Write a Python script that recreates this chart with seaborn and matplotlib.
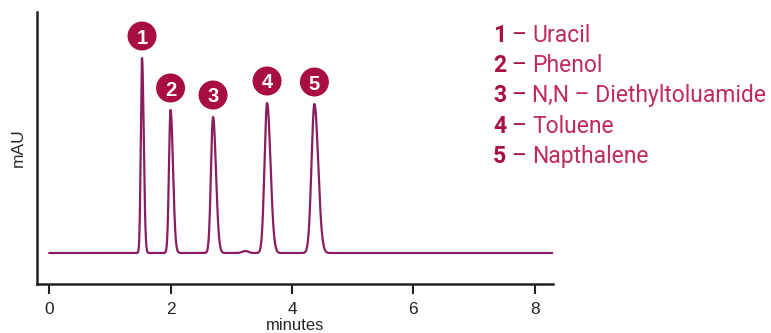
import numpy as np
import pandas as pd
import matplotlib
matplotlib.use("Agg")
import matplotlib.pyplot as plt
import matplotlib.transforms as mtransforms
import seaborn as sns

# ---- data ----
peak_labels = ["1", "2", "3", "4", "5"]
compounds = ["Uracil", "Phenol", "N,N – Diethyltoluamide", "Toluene", "Napthalene"]
retention_min = [1.53, 2.00, 2.70, 3.59, 4.37]
peak_height = [195, 143, 136, 150, 149]
sigma_left = [0.020, 0.026, 0.034, 0.042, 0.048]
sigma_right = [0.028, 0.040, 0.048, 0.056, 0.062]
minor_rt = [3.23]
minor_height = [2]
minor_sigma = [0.05]
run_start, run_end = 0.0, 8.3
x_ticks = [0, 2, 4, 6, 8]

# ---- build chromatogram trace from the peak table ----
t = np.linspace(run_start, run_end, 4000)
signal = np.zeros_like(t)
for rt, h, sl, sr in zip(retention_min, peak_height, sigma_left, sigma_right):
    s = np.where(t < rt, sl, sr)
    signal += h * np.exp(-0.5 * ((t - rt) / s) ** 2)
for rt, h, s in zip(minor_rt, minor_height, minor_sigma):
    signal += h * np.exp(-0.5 * ((t - rt) / s) ** 2)
trace = pd.DataFrame({"minutes": t, "mAU": signal})
peaks = pd.DataFrame({"minutes": retention_min, "mAU": peak_height, "label": peak_labels})

sns.set_style("white")
plt.rcParams["font.family"] = ["Liberation Sans", "DejaVu Sans"]

line_color = "#8a1d5e"
badge_color = "#a80d43"
text_color = "#c02a5c"

fig = plt.figure(figsize=(7.71, 3.33), dpi=100)
ax = fig.add_axes([37 / 771, 1 - 284 / 333, (553 - 37) / 771, (284 - 12) / 333])

sns.lineplot(data=trace, x="minutes", y="mAU", ax=ax, color=line_color, linewidth=1.6)

# numbered badges above each peak
offset = mtransforms.offset_copy(ax.transData, fig=fig, x=0, y=22, units="dots")
sns.scatterplot(data=peaks, x="minutes", y="mAU", ax=ax, s=(29 * 0.72) ** 2,
                color=badge_color, edgecolor="none", transform=offset, clip_on=False, zorder=5)
for rt, h, lab in zip(retention_min, peak_height, peak_labels):
    ax.text(rt, h, lab, transform=offset, ha="center", va="center_baseline",
            color="white", fontsize=14.5, fontweight="bold", zorder=6)

ax.set_xlim(-0.2, run_end)
ax.set_ylim(-31, 241)
ax.set_xticks(x_ticks)
ax.set_yticks([])
ax.set_xlabel("minutes", fontsize=12)
ax.xaxis.set_label_coords(0.5, (284 - 330) / 272)
ax.xaxis.label.set_va("baseline")
ax.set_ylabel("mAU", fontsize=12.5, labelpad=8)
ax.tick_params(axis="x", direction="out", length=7, width=1.5, pad=6,
               labelsize=12.5, color="#222222", bottom=True)
for side in ["top", "right"]:
    ax.spines[side].set_visible(False)
for side in ["left", "bottom"]:
    ax.spines[side].set_color("#222222")
    ax.spines[side].set_linewidth(1.8)

# compound list on the right
fam = ["Roboto", "DejaVu Sans"]
for i, (lab, name) in enumerate(zip(peak_labels, compounds)):
    y = 1 - (35 + i * 30.5) / 333
    fig.text(493 / 771, y, lab, color=badge_color, fontsize=16.5, fontweight="bold",
             va="center", ha="left", family=fam)
    fig.text(511 / 771, y, "–", color=badge_color, fontsize=16.5, fontweight="normal",
             va="center", ha="left", family=fam)
    fig.text(532 / 771, y, name, color=text_color, fontsize=16.5, fontweight="normal",
             va="center", ha="left", family=fam)

fig.savefig("out.png", dpi=100)
